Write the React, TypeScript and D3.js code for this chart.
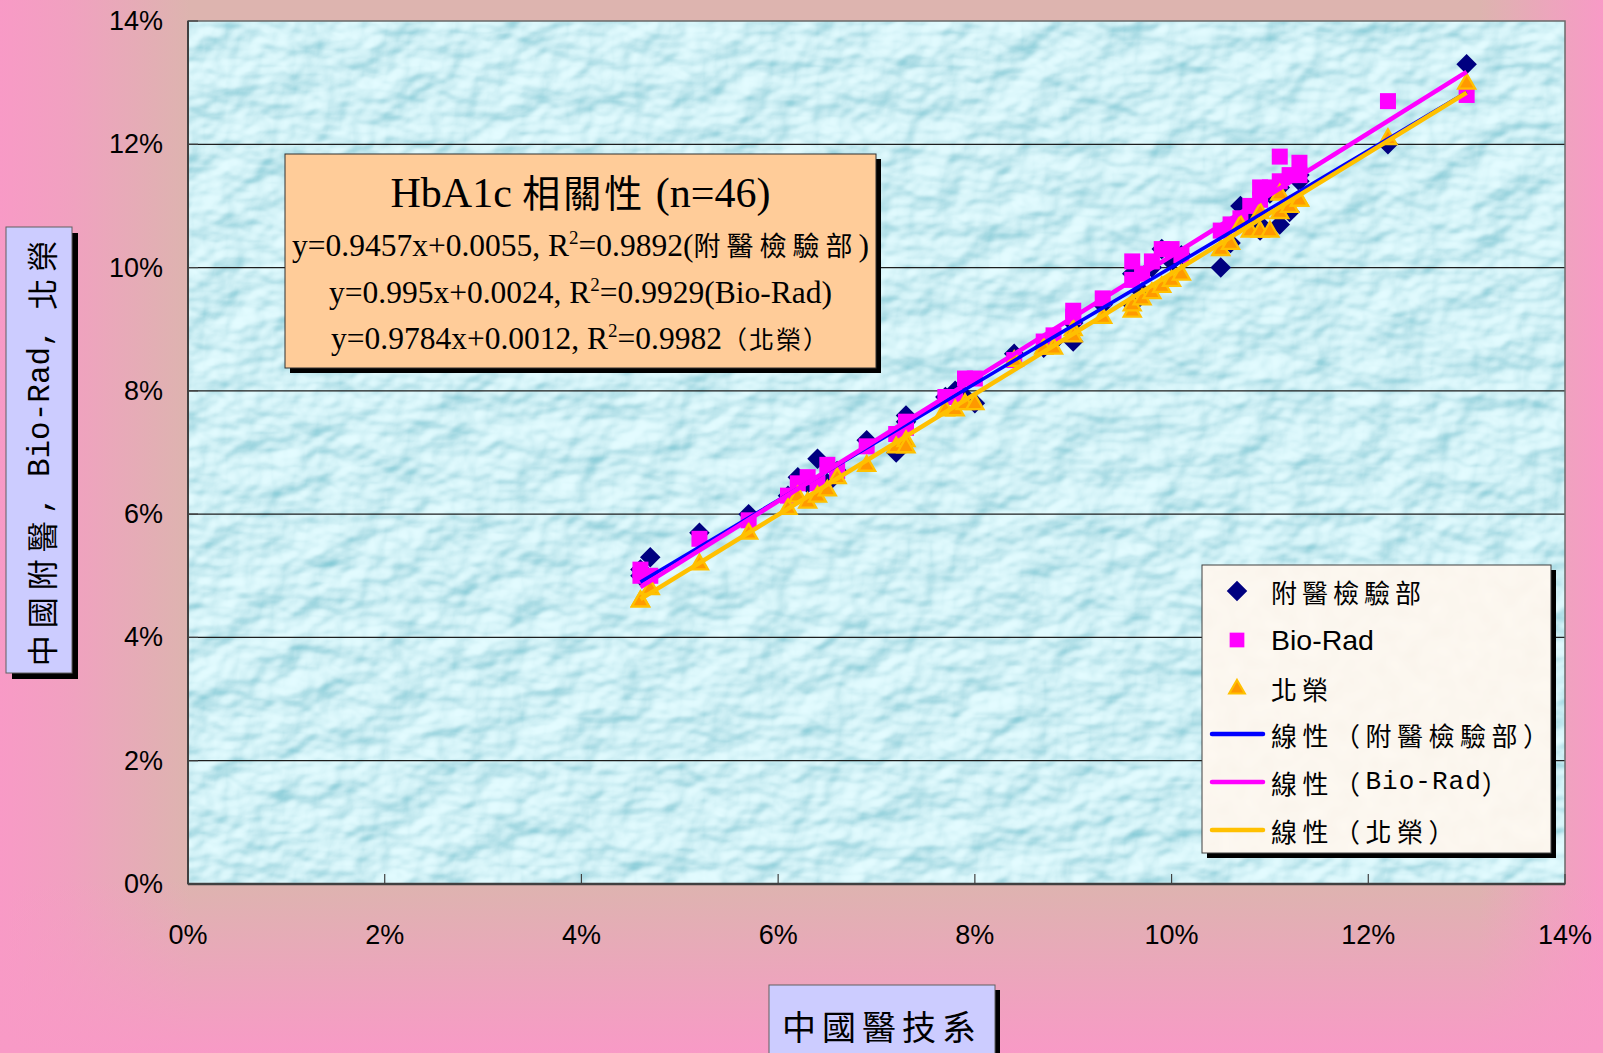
import React, { useEffect } from "react";
import * as d3 from "d3";

const WIDTH = 1603;
const HEIGHT = 1053;

// HbA1c of each specimen (fraction), measured by 中國醫技系 — shared x values
const referenceHbA1c = [
  0.046, 0.046, 0.047, 0.052, 0.057, 0.061, 0.062, 0.063, 0.064, 0.065, 0.066, 0.069,
  0.072, 0.073, 0.073, 0.077, 0.078, 0.079, 0.08, 0.084, 0.087, 0.088, 0.09, 0.09,
  0.093, 0.096, 0.096, 0.097, 0.098, 0.099, 0.1, 0.101, 0.105, 0.106, 0.107, 0.108,
  0.109, 0.109, 0.11, 0.111, 0.111, 0.112, 0.113, 0.113, 0.122, 0.13,
];
// Same specimens measured by 附醫檢驗部
const fuyiHbA1c = [
  0.051, 0.05, 0.053, 0.057, 0.06, 0.063, 0.066, 0.065, 0.069, 0.065, 0.067, 0.072,
  0.07, 0.075, 0.076, 0.079, 0.08, 0.079, 0.078, 0.086, 0.087, 0.088, 0.088, 0.091,
  0.094, 0.094, 0.099, 0.096, 0.1, 0.103, 0.101, 0.102, 0.1, 0.104, 0.11, 0.108,
  0.106, 0.107, 0.112, 0.107, 0.113, 0.109, 0.114, 0.115, 0.12, 0.133,
];
// Same specimens measured by Bio-Rad
const bioRadHbA1c = [
  0.051, 0.05, 0.05, 0.056, 0.059, 0.063, 0.065, 0.066, 0.065, 0.068, 0.067, 0.071,
  0.073, 0.075, 0.074, 0.079, 0.079, 0.082, 0.082, 0.085, 0.088, 0.089, 0.093, 0.092,
  0.095, 0.101, 0.098, 0.099, 0.101, 0.103, 0.103, 0.102, 0.106, 0.107, 0.108, 0.11,
  0.113, 0.111, 0.113, 0.118, 0.114, 0.115, 0.117, 0.115, 0.127, 0.128,
];
// Same specimens measured by 北榮
const beirongHbA1c = [
  0.046, 0.046, 0.048, 0.052, 0.057, 0.061, 0.063, 0.062, 0.063, 0.064, 0.066, 0.068,
  0.071, 0.072, 0.071, 0.077, 0.077, 0.078, 0.078, 0.085, 0.087, 0.087, 0.09, 0.089,
  0.092, 0.093, 0.094, 0.095, 0.096, 0.097, 0.098, 0.099, 0.103, 0.104, 0.107, 0.106,
  0.106, 0.109, 0.106, 0.109, 0.112, 0.11, 0.111, 0.111, 0.121, 0.13,
];

const seriesNames = ["附醫檢驗部", "Bio-Rad", "北榮"];
const equationSuffixes = ["(附醫檢驗部)", "(Bio-Rad)", "（北榮）"];
const trendNames = ["線性（附醫檢驗部）", "線性（Bio-Rad）", "線性（北榮）"];
const fitSlopes = [0.9457, 0.995, 0.9784];
const fitIntercepts = [0.0055, 0.0024, 0.0012];
const fitR2 = [0.9892, 0.9929, 0.9982];
const axisTicks = [0, 0.02, 0.04, 0.06, 0.08, 0.1, 0.12, 0.14];

const titleText = "HbA1c 相關性 (n=46)";
const yTitle = "中國附醫, Bio-Rad, 北榮";
const xTitle = "中國醫技系";

const PINK = "#f89ac6";
const TAN = "#ddb4af";

const CJK_FONT = "'Noto Sans CJK TC', 'Noto Sans CJK JP', sans-serif";
const SERIF = "'Liberation Serif', 'Times New Roman', serif";
const MONO = "'Liberation Mono', monospace";

type Run = { text: string; cjk: boolean };
const CJK_RE = /[\u2E80-\u9FFF\uFF00-\uFFEF\u3000-\u303F]/;
function splitRuns(s: string): Run[] {
  const out: Run[] = [];
  const re = /[\u2E80-\u9FFF\uFF00-\uFFEF\u3000-\u303F]+|[^\u2E80-\u9FFF\uFF00-\uFFEF\u3000-\u303F]+/g;
  let m: RegExpExecArray | null;
  while ((m = re.exec(s))) out.push({ text: m[0], cjk: CJK_RE.test(m[0]) });
  return out;
}

function MixedTspans({
  text,
  latinFont,
  cjkSpacing = 0,
  latinSpacing = 0,
  cjkSize,
  latinSize,
}: {
  text: string;
  latinFont: string;
  cjkSpacing?: number;
  latinSpacing?: number;
  cjkSize?: number;
  latinSize?: number;
}) {
  return (
    <>
      {splitRuns(text).map((r, i) => (
        <tspan
          key={i}
          fontFamily={r.cjk ? CJK_FONT : latinFont}
          letterSpacing={r.cjk ? cjkSpacing : latinSpacing}
          fontSize={r.cjk ? cjkSize : latinSize}
          style={{ whiteSpace: "pre" }}
        >
          {r.text}
        </tspan>
      ))}
    </>
  );
}

export default function App() {
  useEffect(() => {
    document.body.style.margin = "0";
  }, []);

  const plot = { left: 188, top: 21, right: 1565, bottom: 884 };
  const x = d3.scaleLinear().domain([0, 0.14]).range([plot.left, plot.right]);
  const y = d3.scaleLinear().domain([0, 0.14]).range([plot.bottom, plot.top]);
  const pct = d3.format(".0%");

  const series = [fuyiHbA1c, bioRadHbA1c, beirongHbA1c];
  const xExtent = d3.extent(referenceHbA1c) as [number, number];

  const diamondPath = d3.symbol(d3.symbolSquare, 14.5 * 14.5)()!;
  const squarePath = d3.symbol(d3.symbolSquare, 16 * 16)()!;
  const trianglePath = d3.symbol(d3.symbolTriangle, 125)()!;

  const markerFor = (k: number, cx: number, cy: number, key: string | number, scale = 1) => {
    if (k === 0)
      return (
        <path
          key={key}
          d={diamondPath}
          transform={`translate(${cx},${cy}) rotate(45) scale(${scale})`}
          fill="#000080"
        />
      );
    if (k === 1)
      return (
        <path key={key} d={squarePath} transform={`translate(${cx},${cy}) scale(${scale})`} fill="#ff00ff" />
      );
    return (
      <path
        key={key}
        d={trianglePath}
        transform={`translate(${cx},${cy + 1}) scale(${scale})`}
        fill="#ff9900"
        stroke="#ffc000"
        strokeWidth={2.3}
        strokeLinejoin="miter"
      />
    );
  };

  const trendColors = ["#0000ff", "#ff00ff", "#ffc000"];
  const trendWidths = [3.5, 4.5, 4.5];

  // equation box
  const ann = { x: 285, y: 154, w: 591, h: 214 };
  // legend box
  const leg = { x: 1202, y: 565, w: 349, h: 288 };
  const legRows = [591, 640, 688, 734, 782, 830];

  return (
    <div style={{ position: "absolute", left: 0, top: 0, width: WIDTH, height: HEIGHT }}>
      <svg width={WIDTH} height={HEIGHT} viewBox={`0 0 ${WIDTH} ${HEIGHT}`} style={{ display: "block" }}>
        <defs>
          <linearGradient id="bgLeft" x1="0" x2="1" y1="0" y2="0">
            <stop offset="0" stopColor={PINK} stopOpacity={1} />
            <stop offset="0.35" stopColor={PINK} stopOpacity={0.75} />
            <stop offset="1" stopColor={PINK} stopOpacity={0} />
          </linearGradient>
          <linearGradient id="bgRight" x1="0" x2="1" y1="0" y2="0">
            <stop offset="0" stopColor={PINK} stopOpacity={0} />
            <stop offset="1" stopColor={PINK} stopOpacity={1} />
          </linearGradient>
          <linearGradient id="bgBottom" x1="0" x2="0" y1="0" y2="1">
            <stop offset="0" stopColor={PINK} stopOpacity={0} />
            <stop offset="1" stopColor={PINK} stopOpacity={1} />
          </linearGradient>
          <filter id="waterDrops" x="0" y="0" width="100%" height="100%">
            <feTurbulence type="fractalNoise" baseFrequency="0.022 0.03" numOctaves={3} seed={11} result="noise" />
            <feDiffuseLighting in="noise" surfaceScale={9} diffuseConstant={1} lightingColor="#ffffff" result="light">
              <feDistantLight azimuth={235} elevation={50} />
            </feDiffuseLighting>
            <feColorMatrix
              in="light"
              type="matrix"
              values="0.6 0 0 0 0.17  0.42 0 0 0 0.55  0.36 0 0 0 0.64  0 0 0 0 1"
            />
          </filter>
          <filter id="paper" x="0" y="0" width="100%" height="100%">
            <feTurbulence type="fractalNoise" baseFrequency="0.05" numOctaves={2} seed={4} result="n" />
            <feColorMatrix
              in="n"
              type="matrix"
              values="0.04 0 0 0 0.95  0.05 0 0 0 0.9  0.06 0 0 0 0.83  0 0 0 0 1"
            />
          </filter>
          <clipPath id="plotClip">
            <rect x={plot.left} y={plot.top} width={plot.right - plot.left} height={plot.bottom - plot.top} />
          </clipPath>
        </defs>

        {/* page background */}
        <rect x={0} y={0} width={WIDTH} height={HEIGHT} fill={TAN} />
        <rect x={0} y={0} width={190} height={HEIGHT} fill="url(#bgLeft)" />
        <rect x={1480} y={0} width={WIDTH - 1480} height={HEIGHT} fill="url(#bgRight)" />
        <rect x={0} y={880} width={WIDTH} height={HEIGHT - 880} fill="url(#bgBottom)" />

        {/* plot area */}
        <rect
          x={plot.left}
          y={plot.top}
          width={plot.right - plot.left}
          height={plot.bottom - plot.top}
          fill="#b5e2ea"
          filter="url(#waterDrops)"
        />

        {/* horizontal gridlines */}
        {axisTicks
          .filter((t) => t > 0 && t < 0.14)
          .map((t) => (
            <line key={t} x1={plot.left} x2={plot.right} y1={y(t)} y2={y(t)} stroke="#1e1e1e" strokeWidth={1.2} />
          ))}

        {/* plot border and axes */}
        <rect
          x={plot.left}
          y={plot.top}
          width={plot.right - plot.left}
          height={plot.bottom - plot.top}
          fill="none"
          stroke="#6a6a6a"
          strokeWidth={1.5}
        />
        <line x1={plot.left} x2={plot.left} y1={plot.top} y2={plot.bottom} stroke="#404040" strokeWidth={2} />
        <line x1={plot.left} x2={plot.right} y1={plot.bottom} y2={plot.bottom} stroke="#404040" strokeWidth={2.5} />
        {axisTicks.map((t) => (
          <g key={`t${t}`}>
            <line x1={x(t)} x2={x(t)} y1={plot.bottom} y2={plot.bottom - 10} stroke="#404040" strokeWidth={1.2} />
            <line x1={plot.left} x2={plot.left + 10} y1={y(t)} y2={y(t)} stroke="#404040" strokeWidth={1.2} />
          </g>
        ))}

        {/* tick labels */}
        <g fontFamily="'Liberation Sans', Arial, sans-serif" fontSize={27} fill="#000">
          {axisTicks.map((t) => (
            <text key={`yl${t}`} x={163} y={y(t)} textAnchor="end" dominantBaseline="central">
              {pct(t)}
            </text>
          ))}
          {axisTicks.map((t) => (
            <text key={`xl${t}`} x={x(t)} y={935} textAnchor="middle" dominantBaseline="central">
              {pct(t)}
            </text>
          ))}
        </g>

        {/* markers and trend lines */}
        <g clipPath="url(#plotClip)">
          {series.map((vals, k) => (
            <g key={`s${k}`}>{vals.map((v, i) => markerFor(k, x(referenceHbA1c[i]), y(v), i))}</g>
          ))}
          {fitSlopes.map((m, k) => {
            const pts: [number, number][] = xExtent.map((xv) => [x(xv), y(m * xv + fitIntercepts[k])]);
            return (
              <path
                key={`fit${k}`}
                d={d3.line()(pts)!}
                fill="none"
                stroke={trendColors[k]}
                strokeWidth={trendWidths[k]}
              />
            );
          })}
        </g>

        {/* equation box */}
        <rect x={ann.x + 5} y={ann.y + 5} width={ann.w} height={ann.h} fill="#000" />
        <rect x={ann.x} y={ann.y} width={ann.w} height={ann.h} fill="#ffcc99" stroke="#303030" strokeWidth={1} />
        <text x={ann.x + ann.w / 2} y={207} textAnchor="middle" fontSize={42} fill="#000">
          <MixedTspans text={titleText} latinFont={SERIF} cjkSize={38} cjkSpacing={3} />
        </text>
        {fitSlopes.map((m, k) => (
          <text
            key={`eq${k}`}
            x={ann.x + ann.w / 2}
            y={256 + k * 46.5}
            textAnchor="middle"
            fontSize={31.5}
            fontFamily={SERIF}
            fill="#000"
          >
            <tspan>{`y=${m}x+${fitIntercepts[k]}, R`}</tspan>
            <tspan dy={-12} fontSize={19}>
              2
            </tspan>
            <tspan dy={12}>{`=${fitR2[k]}`}</tspan>
            <MixedTspans
              text={equationSuffixes[k]}
              latinFont={SERIF}
              cjkSize={k === 0 ? 27 : 25}
              cjkSpacing={k === 0 ? 6 : 2}
            />
          </text>
        ))}

        {/* legend */}
        <rect x={leg.x + 5} y={leg.y + 5} width={leg.w} height={leg.h} fill="#000" />
        <rect x={leg.x} y={leg.y} width={leg.w} height={leg.h} fill="#f7eddb" filter="url(#paper)" />
        <rect x={leg.x} y={leg.y} width={leg.w} height={leg.h} fill="none" stroke="#404040" strokeWidth={1} />
        {seriesNames.map((name, k) => (
          <g key={`lg${k}`}>
            {markerFor(k, 1237, legRows[k], `lm${k}`, k === 0 ? 1.0 : 0.92)}
            <text x={1271} y={legRows[k]} dominantBaseline="central" fontSize={k === 1 ? 28.5 : 26} fill="#000">
              {k === 1 ? (
                <tspan fontFamily="'Liberation Sans', Arial, sans-serif">{name}</tspan>
              ) : (
                <MixedTspans text={name} latinFont={MONO} cjkSpacing={5} />
              )}
            </text>
          </g>
        ))}
        {trendNames.map((name, k) => (
          <g key={`lt${k}`}>
            <line
              x1={1212}
              x2={1263}
              y1={legRows[k + 3]}
              y2={legRows[k + 3]}
              stroke={trendColors[k]}
              strokeWidth={4.5}
              strokeLinecap="round"
            />
            <text x={1271} y={legRows[k + 3]} dominantBaseline="central" fontSize={26} fill="#000">
              <MixedTspans text={name} latinFont={MONO} cjkSpacing={5.5} latinSpacing={1} />
            </text>
          </g>
        ))}

        {/* y axis title */}
        <rect x={12} y={233} width={66} height={446} fill="#000" />
        <rect x={6} y={227} width={66} height={446} fill="#ccccff" stroke="#606060" strokeWidth={1} />
        <text
          transform={`translate(40,450) rotate(-90)`}
          textAnchor="middle"
          dominantBaseline="central"
          fontSize={31}
          fill="#000"
        >
          <MixedTspans text={yTitle} latinFont={MONO} cjkSpacing={7} latinSpacing={0} />
        </text>

        {/* x axis title */}
        <rect x={774} y={990} width={226} height={80} fill="#000" />
        <rect x={769} y={985} width={226} height={80} fill="#ccccff" stroke="#606060" strokeWidth={1} />
        <text x={882} y={1025} textAnchor="middle" dominantBaseline="central" fontSize={34} fill="#000">
          <MixedTspans text={xTitle} latinFont={MONO} cjkSpacing={6} />
        </text>
      </svg>
    </div>
  );
}
